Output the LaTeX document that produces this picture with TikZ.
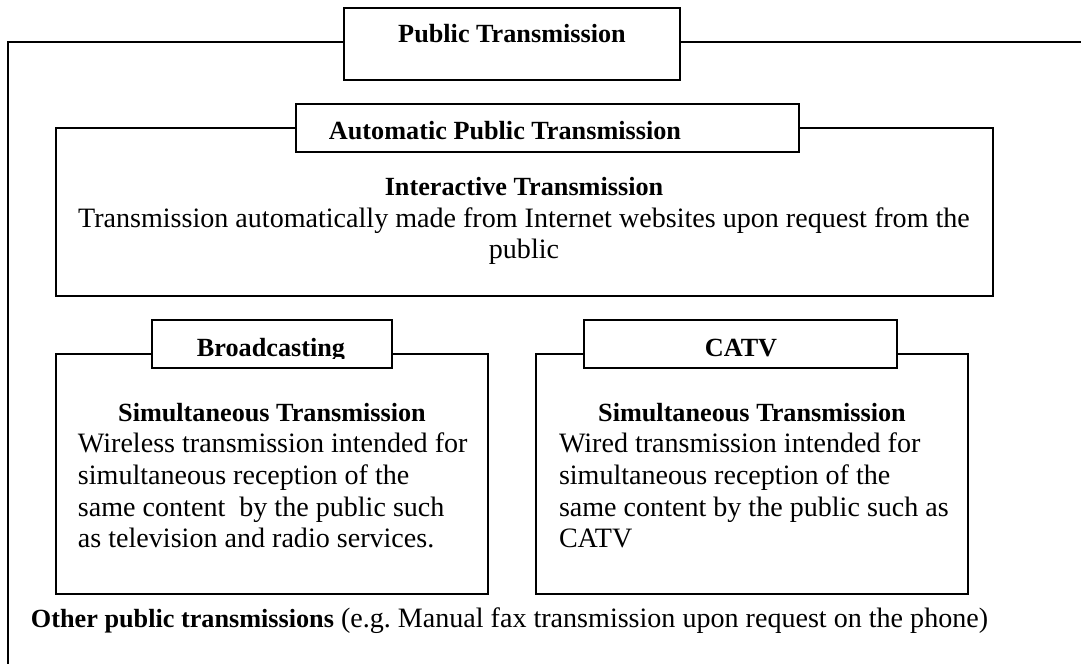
\documentclass[tikz,border=0pt]{standalone}
\usepackage{fontspec}
\setmainfont{Liberation Serif}
\usetikzlibrary{fit}
\frenchspacing
\begin{document}
\begin{tikzpicture}[x=0.431pt,y=-0.431pt, line width=0.86pt,
  frame/.style={draw, inner sep=0pt},
  box/.style={draw, fill=white, inner sep=0pt},
  txt/.style={inner sep=0pt, font=\fontsize{12.1}{13.6}\selectfont},
  hd/.style={inner sep=0pt, font=\fontsize{11.3}{13.6}\selectfont\bfseries}]
\useasboundingbox (0,0) rectangle (1081,664);

% outer frame (open to the right and bottom)
\coordinate (oBL) at (8,664);
\coordinate (oTL) at (8,42);
\coordinate (oTR) at (1081,42);
\draw (oBL) -- (oTL) -- (oTR);
\node[box, fit={(344,8) (680,80)}] (pt) {};
\node[hd, anchor=base] (ptt) at (512,43) {Public Transmission};

% automatic public transmission
\node[frame, fit={(56,128) (993,296)}] (apf) {};
\node[box, fit={(296,104) (799,152)}] (apt) {};
\node[hd, anchor=base] (aptt) at (505,140) {Automatic Public Transmission};
\node[hd, anchor=base] (it) at (524,196) {Interactive Transmission};
\node[txt, anchor=base] (it1) at (524,228) {Transmission automatically made from Internet websites upon request from the};
\node[txt, anchor=base] (it2) at (524,259) {public};

% broadcasting
\node[frame, fit={(56,354) (488,594)}] (bcf) {};
\node[box, fit={(152,320) (392,368)}] (bc) {};
\begin{scope}
\clip (152,320) rectangle (392,358.5);
\node[hd, anchor=base] (bct) at (271,357) {Broadcasting};
\end{scope}
\node[hd, anchor=base] (bs) at (272,422) {Simultaneous Transmission};
\node[txt, anchor=base west] (b1) at (77,453) {Wireless transmission intended for};
\node[txt, anchor=base west] (b2) at (77,485) {simultaneous reception of the};
\node[txt, anchor=base west] (b3) at (77,517) {same content\ \ by the public such};
\node[txt, anchor=base west] (b4) at (77,548) {as television and radio services.};

% CATV
\node[frame, fit={(536,354) (968,594)}] (cvf) {};
\node[box, fit={(584,320) (897,368)}] (cv) {};
\node[hd, anchor=base] (cvt) at (741,357) {CATV};
\node[hd, anchor=base] (cs) at (752,422) {Simultaneous Transmission};
\node[txt, anchor=base west] (c1) at (558,453) {Wired transmission intended for};
\node[txt, anchor=base west] (c2) at (558,485) {simultaneous reception of the};
\node[txt, anchor=base west] (c3) at (558,517) {same content by the public such as};
\node[txt, anchor=base west] (c4) at (558,548) {CATV};

% other
\node[txt, anchor=base west] (oth) at (30,628) {{\fontsize{11.3}{13.6}\selectfont\bfseries Other public transmissions} (e.g. Manual fax transmission upon request on the phone)};
\end{tikzpicture}
\end{document}
